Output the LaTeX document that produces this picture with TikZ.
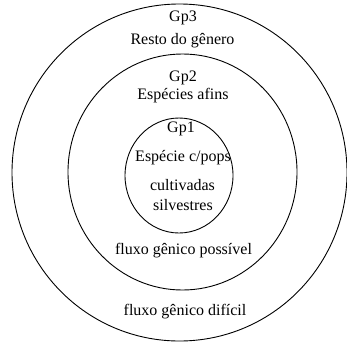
\documentclass[tikz,border=0pt]{standalone}
\usepackage{fontspec}
\setmainfont{Liberation Serif}
\begin{document}
\begin{tikzpicture}[x=1pt,y=-1pt,
  ring/.style={draw=black,line width=0.9pt},
  lbl/.style={anchor=base,inner sep=0pt,font=\fontsize{16}{18}\selectfont}]
\useasboundingbox (0,0) rectangle (347,343);
\draw[ring] (179.5,172.5) ellipse [x radius=167.5, y radius=168.5];
\draw[ring] (182.5,172) ellipse [x radius=114.5, y radius=118];
\draw[ring] (179,175.5) ellipse [x radius=54, y radius=57.5];
\node[lbl] (g3) at (183,21) {Gp3};
\node[lbl] (r3) at (182.5,44) {Resto do gênero};
\node[lbl] (g2) at (183,81) {Gp2};
\node[lbl] (r2) at (183,99) {Espécies afins};
\node[lbl] (g1) at (181,132) {Gp1};
\node[lbl] (r1) at (183,161) {Espécie c/pops};
\node[lbl] (c1) at (182.5,190) {cultivadas};
\node[lbl] (s1) at (183,210) {silvestres};
\node[lbl] (f2) at (183.5,254) {fluxo gênico possível};
\node[lbl] (f3) at (185,315) {fluxo gênico difícil};
\end{tikzpicture}
\end{document}
